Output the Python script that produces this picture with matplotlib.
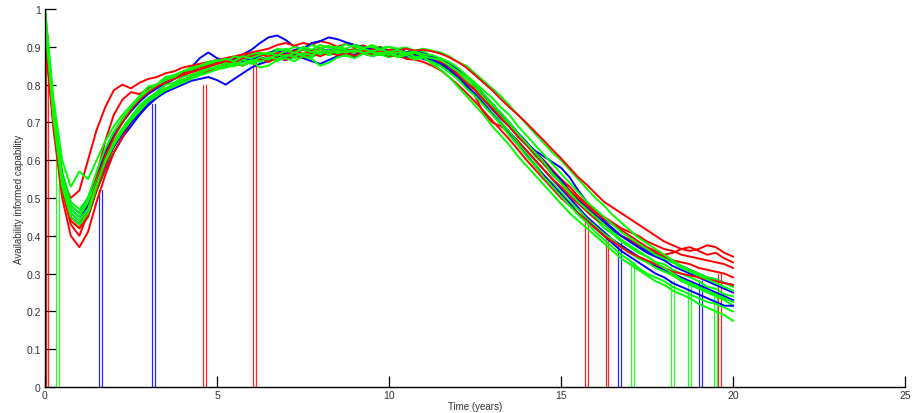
import numpy as np
import matplotlib
matplotlib.use("Agg")
import matplotlib.pyplot as plt

# time grid of the runs (years), one sample each quarter year
years = np.arange(0, 20.01, 0.25)

# availability of informed capability, one list per run
blue_runs = [
    [0.96, 0.72, 0.55, 0.47, 0.45, 0.48, 0.54, 0.6, 0.645, 0.675, 0.705, 0.735, 0.76, 0.78, 0.8, 0.815, 0.83, 0.845, 0.87, 0.885,
     0.87, 0.86, 0.87, 0.88, 0.892, 0.91, 0.925, 0.93, 0.918, 0.9, 0.895, 0.888, 0.895, 0.89, 0.898, 0.892, 0.888, 0.895, 0.89, 0.885,
     0.89, 0.882, 0.885, 0.878, 0.88, 0.872, 0.862, 0.845, 0.83, 0.808, 0.785, 0.76, 0.735, 0.71, 0.69, 0.665, 0.645, 0.625, 0.61, 0.595,
     0.58, 0.555, 0.52, 0.49, 0.465, 0.44, 0.42, 0.4, 0.385, 0.37, 0.355, 0.345, 0.335, 0.32, 0.31, 0.3, 0.29, 0.28, 0.27, 0.26, 0.25],
    [0.95, 0.7, 0.52, 0.45, 0.43, 0.46, 0.52, 0.575, 0.62, 0.66, 0.69, 0.72, 0.745, 0.765, 0.78, 0.79, 0.8, 0.81, 0.815, 0.82,
     0.812, 0.8, 0.815, 0.83, 0.845, 0.855, 0.862, 0.87, 0.865, 0.875, 0.87, 0.862, 0.855, 0.865, 0.875, 0.88, 0.874, 0.882, 0.876, 0.88,
     0.875, 0.878, 0.87, 0.874, 0.868, 0.86, 0.85, 0.835, 0.815, 0.795, 0.775, 0.75, 0.725, 0.7, 0.675, 0.65, 0.625, 0.6, 0.575, 0.55,
     0.525, 0.5, 0.475, 0.45, 0.43, 0.41, 0.39, 0.375, 0.36, 0.345, 0.33, 0.32, 0.31, 0.3, 0.29, 0.28, 0.27, 0.26, 0.25, 0.24, 0.23],
    [0.97, 0.73, 0.56, 0.48, 0.46, 0.5, 0.56, 0.62, 0.665, 0.7, 0.73, 0.755, 0.775, 0.79, 0.805, 0.815, 0.825, 0.835, 0.84, 0.848,
     0.855, 0.862, 0.868, 0.874, 0.88, 0.876, 0.884, 0.89, 0.882, 0.892, 0.895, 0.91, 0.915, 0.925, 0.92, 0.912, 0.905, 0.9, 0.892, 0.896,
     0.89, 0.895, 0.886, 0.89, 0.882, 0.876, 0.868, 0.855, 0.84, 0.82, 0.8, 0.775, 0.75, 0.725, 0.7, 0.672, 0.648, 0.62, 0.598, 0.57,
     0.548, 0.52, 0.495, 0.475, 0.455, 0.435, 0.415, 0.4, 0.385, 0.37, 0.36, 0.35, 0.34, 0.33, 0.32, 0.31, 0.3, 0.29, 0.285, 0.275, 0.27],
    [0.96, 0.71, 0.54, 0.46, 0.44, 0.47, 0.53, 0.59, 0.635, 0.67, 0.7, 0.725, 0.75, 0.77, 0.785, 0.8, 0.812, 0.82, 0.83, 0.836,
     0.844, 0.85, 0.856, 0.862, 0.868, 0.872, 0.866, 0.876, 0.87, 0.88, 0.874, 0.884, 0.878, 0.886, 0.88, 0.884, 0.878, 0.886, 0.88, 0.884,
     0.878, 0.882, 0.874, 0.878, 0.87, 0.866, 0.855, 0.84, 0.82, 0.798, 0.775, 0.75, 0.722, 0.695, 0.668, 0.64, 0.612, 0.585, 0.56, 0.535,
     0.51, 0.485, 0.46, 0.44, 0.42, 0.4, 0.38, 0.36, 0.345, 0.33, 0.315, 0.3, 0.29, 0.275, 0.265, 0.255, 0.245, 0.235, 0.225, 0.215, 0.215],
]

red_runs = [
    [0.93, 0.7, 0.55, 0.5, 0.52, 0.6, 0.68, 0.74, 0.785, 0.8, 0.79, 0.805, 0.815, 0.82, 0.83, 0.835, 0.845, 0.85, 0.855, 0.86,
     0.865, 0.87, 0.875, 0.88, 0.885, 0.89, 0.895, 0.905, 0.91, 0.903, 0.91, 0.905, 0.915, 0.91, 0.9, 0.908, 0.898, 0.904, 0.895, 0.9,
     0.888, 0.892, 0.885, 0.88, 0.882, 0.874, 0.862, 0.85, 0.83, 0.81, 0.79, 0.77, 0.745, 0.72, 0.695, 0.67, 0.645, 0.62, 0.6, 0.575,
     0.55, 0.53, 0.505, 0.485, 0.465, 0.45, 0.435, 0.42, 0.41, 0.4, 0.385, 0.375, 0.365, 0.36, 0.35, 0.345, 0.34, 0.335, 0.33, 0.325, 0.315],
    [0.94, 0.68, 0.5, 0.4, 0.37, 0.41, 0.49, 0.56, 0.62, 0.66, 0.7, 0.73, 0.755, 0.77, 0.785, 0.8, 0.81, 0.818, 0.83, 0.835,
     0.845, 0.85, 0.855, 0.86, 0.868, 0.872, 0.868, 0.876, 0.87, 0.882, 0.874, 0.884, 0.878, 0.888, 0.88, 0.886, 0.89, 0.882, 0.888, 0.88,
     0.885, 0.878, 0.882, 0.872, 0.875, 0.865, 0.855, 0.84, 0.82, 0.8, 0.77, 0.725, 0.7, 0.69, 0.672, 0.65, 0.625, 0.6, 0.575, 0.55,
     0.53, 0.505, 0.485, 0.465, 0.445, 0.43, 0.415, 0.4, 0.39, 0.375, 0.365, 0.355, 0.345, 0.335, 0.33, 0.325, 0.315, 0.31, 0.305, 0.3, 0.29],
    [0.92, 0.69, 0.52, 0.43, 0.4, 0.46, 0.56, 0.65, 0.72, 0.76, 0.78, 0.775, 0.79, 0.8, 0.815, 0.82, 0.83, 0.838, 0.845, 0.852,
     0.858, 0.865, 0.87, 0.875, 0.882, 0.876, 0.885, 0.88, 0.89, 0.884, 0.892, 0.886, 0.894, 0.888, 0.896, 0.89, 0.885, 0.892, 0.886, 0.89,
     0.882, 0.888, 0.878, 0.882, 0.872, 0.868, 0.858, 0.842, 0.825, 0.805, 0.785, 0.76, 0.738, 0.712, 0.688, 0.662, 0.64, 0.615, 0.59, 0.565,
     0.54, 0.52, 0.5, 0.48, 0.46, 0.445, 0.43, 0.415, 0.4, 0.385, 0.37, 0.36, 0.35, 0.355, 0.365, 0.37, 0.36, 0.35, 0.355, 0.34, 0.33],
    [0.93, 0.7, 0.53, 0.44, 0.42, 0.45, 0.52, 0.58, 0.64, 0.675, 0.705, 0.735, 0.76, 0.775, 0.79, 0.8, 0.812, 0.82, 0.828, 0.835,
     0.842, 0.85, 0.856, 0.85, 0.862, 0.868, 0.86, 0.872, 0.865, 0.878, 0.872, 0.882, 0.875, 0.885, 0.878, 0.883, 0.876, 0.884, 0.88, 0.886,
     0.876, 0.878, 0.868, 0.866, 0.86, 0.85, 0.838, 0.82, 0.8, 0.778, 0.755, 0.73, 0.705, 0.68, 0.655, 0.628, 0.6, 0.575, 0.55, 0.525,
     0.5, 0.48, 0.46, 0.44, 0.42, 0.4, 0.385, 0.37, 0.355, 0.345, 0.335, 0.325, 0.315, 0.305, 0.3, 0.295, 0.29, 0.285, 0.28, 0.275, 0.27],
    [0.95, 0.71, 0.54, 0.45, 0.43, 0.47, 0.54, 0.61, 0.66, 0.7, 0.735, 0.76, 0.78, 0.795, 0.805, 0.815, 0.825, 0.832, 0.84, 0.848,
     0.855, 0.862, 0.858, 0.87, 0.875, 0.88, 0.874, 0.884, 0.878, 0.89, 0.883, 0.888, 0.895, 0.886, 0.892, 0.888, 0.894, 0.885, 0.892, 0.886,
     0.892, 0.89, 0.895, 0.89, 0.892, 0.888, 0.882, 0.872, 0.86, 0.845, 0.825, 0.805, 0.785, 0.762, 0.74, 0.72, 0.698, 0.675, 0.652, 0.628,
     0.605, 0.58, 0.555, 0.535, 0.512, 0.49, 0.475, 0.46, 0.445, 0.43, 0.415, 0.4, 0.385, 0.375, 0.365, 0.36, 0.365, 0.375, 0.37, 0.355, 0.345],
]

green_runs = [
    [1.0, 0.74, 0.57, 0.49, 0.47, 0.5, 0.56, 0.62, 0.67, 0.7, 0.73, 0.755, 0.78, 0.79, 0.81, 0.815, 0.83, 0.835, 0.85, 0.85,
     0.86, 0.855, 0.87, 0.865, 0.875, 0.88, 0.882, 0.895, 0.89, 0.9, 0.892, 0.905, 0.897, 0.903, 0.895, 0.908, 0.9, 0.894, 0.905, 0.897,
     0.9, 0.888, 0.895, 0.884, 0.888, 0.875, 0.868, 0.85, 0.835, 0.81, 0.795, 0.765, 0.745, 0.715, 0.695, 0.66, 0.64, 0.61, 0.59, 0.56,
     0.54, 0.51, 0.49, 0.465, 0.445, 0.42, 0.405, 0.385, 0.37, 0.355, 0.345, 0.33, 0.325, 0.31, 0.3, 0.29, 0.28, 0.265, 0.26, 0.245, 0.24],
    [0.98, 0.7, 0.52, 0.44, 0.42, 0.45, 0.52, 0.58, 0.635, 0.675, 0.705, 0.735, 0.755, 0.775, 0.785, 0.8, 0.81, 0.82, 0.825, 0.835,
     0.84, 0.85, 0.848, 0.86, 0.855, 0.865, 0.87, 0.862, 0.875, 0.87, 0.88, 0.872, 0.885, 0.878, 0.884, 0.875, 0.88, 0.886, 0.876, 0.88,
     0.872, 0.882, 0.875, 0.87, 0.872, 0.862, 0.855, 0.838, 0.82, 0.8, 0.775, 0.752, 0.725, 0.7, 0.675, 0.645, 0.615, 0.59, 0.56, 0.54,
     0.515, 0.49, 0.47, 0.445, 0.425, 0.405, 0.39, 0.37, 0.355, 0.34, 0.33, 0.315, 0.305, 0.295, 0.28, 0.27, 0.26, 0.25, 0.24, 0.23, 0.215],
    [1.0, 0.76, 0.6, 0.53, 0.57, 0.55, 0.6, 0.65, 0.69, 0.72, 0.745, 0.77, 0.795, 0.8, 0.82, 0.825, 0.835, 0.845, 0.85, 0.86,
     0.865, 0.86, 0.875, 0.87, 0.88, 0.885, 0.878, 0.89, 0.895, 0.885, 0.9, 0.892, 0.905, 0.897, 0.9, 0.895, 0.905, 0.898, 0.9, 0.892,
     0.9, 0.895, 0.898, 0.89, 0.895, 0.89, 0.885, 0.875, 0.86, 0.85, 0.83, 0.81, 0.79, 0.77, 0.745, 0.72, 0.695, 0.67, 0.645, 0.62,
     0.6, 0.575, 0.55, 0.525, 0.5, 0.48, 0.455, 0.435, 0.415, 0.395, 0.38, 0.365, 0.35, 0.335, 0.32, 0.31, 0.3, 0.29, 0.285, 0.275, 0.265],
    [0.99, 0.72, 0.55, 0.47, 0.45, 0.49, 0.545, 0.605, 0.65, 0.685, 0.715, 0.745, 0.765, 0.78, 0.8, 0.805, 0.82, 0.826, 0.835, 0.842,
     0.848, 0.858, 0.852, 0.866, 0.86, 0.872, 0.866, 0.88, 0.874, 0.884, 0.876, 0.888, 0.88, 0.89, 0.883, 0.888, 0.895, 0.886, 0.89, 0.882,
     0.888, 0.876, 0.885, 0.874, 0.872, 0.855, 0.84, 0.82, 0.795, 0.77, 0.745, 0.72, 0.69, 0.665, 0.64, 0.61, 0.585, 0.56, 0.535, 0.51,
     0.485, 0.46, 0.44, 0.42, 0.4, 0.38, 0.36, 0.34, 0.325, 0.31, 0.295, 0.28, 0.27, 0.255, 0.245, 0.235, 0.22, 0.21, 0.2, 0.19, 0.175],
    [0.97, 0.71, 0.53, 0.45, 0.43, 0.46, 0.53, 0.6, 0.645, 0.68, 0.71, 0.735, 0.76, 0.775, 0.79, 0.8, 0.812, 0.82, 0.83, 0.84,
     0.845, 0.85, 0.858, 0.85, 0.862, 0.845, 0.85, 0.865, 0.87, 0.862, 0.875, 0.868, 0.85, 0.858, 0.872, 0.878, 0.87, 0.882, 0.876, 0.885,
     0.878, 0.885, 0.88, 0.884, 0.875, 0.87, 0.865, 0.852, 0.835, 0.82, 0.8, 0.775, 0.75, 0.725, 0.7, 0.67, 0.645, 0.62, 0.595, 0.565,
     0.54, 0.515, 0.49, 0.47, 0.45, 0.43, 0.41, 0.39, 0.375, 0.36, 0.345, 0.33, 0.315, 0.3, 0.285, 0.275, 0.265, 0.255, 0.245, 0.235, 0.225],
    [1.0, 0.73, 0.56, 0.48, 0.46, 0.5, 0.57, 0.63, 0.675, 0.71, 0.74, 0.765, 0.785, 0.8, 0.815, 0.82, 0.835, 0.84, 0.848, 0.855,
     0.862, 0.868, 0.862, 0.875, 0.87, 0.88, 0.885, 0.876, 0.89, 0.884, 0.894, 0.886, 0.895, 0.888, 0.896, 0.89, 0.886, 0.895, 0.888, 0.894,
     0.886, 0.892, 0.884, 0.888, 0.88, 0.878, 0.87, 0.86, 0.845, 0.825, 0.805, 0.785, 0.765, 0.74, 0.72, 0.69, 0.665, 0.64, 0.615, 0.59,
     0.565, 0.54, 0.515, 0.49, 0.47, 0.45, 0.43, 0.41, 0.395, 0.38, 0.365, 0.35, 0.34, 0.33, 0.315, 0.305, 0.295, 0.285, 0.275, 0.265, 0.255],
    [0.98, 0.71, 0.54, 0.46, 0.44, 0.47, 0.535, 0.595, 0.64, 0.675, 0.705, 0.73, 0.755, 0.77, 0.785, 0.795, 0.805, 0.815, 0.825, 0.832,
     0.84, 0.845, 0.852, 0.858, 0.865, 0.86, 0.872, 0.868, 0.878, 0.874, 0.884, 0.878, 0.888, 0.882, 0.89, 0.885, 0.892, 0.884, 0.886, 0.878,
     0.884, 0.872, 0.878, 0.866, 0.872, 0.858, 0.85, 0.832, 0.815, 0.79, 0.77, 0.745, 0.72, 0.695, 0.665, 0.64, 0.61, 0.585, 0.555, 0.53,
     0.505, 0.48, 0.455, 0.435, 0.41, 0.39, 0.37, 0.35, 0.335, 0.315, 0.3, 0.29, 0.28, 0.265, 0.255, 0.245, 0.235, 0.225, 0.22, 0.21, 0.2],
]

# short outages where a run falls to zero: start time and level before the fall
blue_drop_t = [1.57, 3.12, 16.65, 19.02]
blue_drop_top = [0.52, 0.75, 0.38, 0.28]
red_drop_t = [0.02, 4.6, 6.06, 15.7, 16.3, 19.56]
red_drop_top = [0.93, 0.8, 0.86, 0.44, 0.40, 0.30]
green_drop_t = [0.33, 17.03, 18.2, 18.7, 19.45]
green_drop_top = [0.62, 0.33, 0.28, 0.27, 0.24]
drop_len = 0.08

x_ticks = [0, 5, 10, 15, 20, 25]
y_ticks = [0, 0.1, 0.2, 0.3, 0.4, 0.5, 0.6, 0.7, 0.8, 0.9, 1]
y_tick_labels = ['0', '0.1', '0.2', '0.3', '0.4', '0.5', '0.6', '0.7', '0.8', '0.9', '1']

BLUE = (0, 0, 1)
RED = (1, 0, 0)
GREEN = (0, 1, 0)

plt.rcParams['font.family'] = ['Liberation Sans', 'DejaVu Sans']

fig = plt.figure(figsize=(9.2, 4.14), dpi=100)
ax = fig.add_axes([0.0489, 0.0628, 0.9348, 0.913])

# outages first so the bundle of runs sits over their tops
for ts, tops, col in [(blue_drop_t, blue_drop_top, BLUE),
                      (red_drop_t, red_drop_top, RED),
                      (green_drop_t, green_drop_top, GREEN)]:
    for t, top in zip(ts, tops):
        ax.plot([t, t, t + drop_len, t + drop_len], [top, 0, 0, top],
                color=col, lw=0.9, alpha=0.85)

n = max(len(blue_runs), len(red_runs), len(green_runs))
for i in range(n):
    if i < len(blue_runs):
        ax.plot(years, blue_runs[i], color=BLUE, lw=1.4)
    if i < len(red_runs):
        ax.plot(years, red_runs[i], color=RED, lw=1.4)
    if i < len(green_runs):
        ax.plot(years, green_runs[i], color=GREEN, lw=1.4)

ax.set_xlim(0, 25)
ax.set_ylim(0, 1)
ax.set_xticks(x_ticks)
ax.set_yticks(y_ticks)
ax.set_yticklabels(y_tick_labels)

for s in ['top', 'right']:
    ax.spines[s].set_visible(False)
for s in ['left', 'bottom']:
    ax.spines[s].set_linewidth(1.0)
    ax.spines[s].set_color('black')

ax.tick_params(axis='both', direction='in', length=8, width=0.9,
               labelsize=7.5, labelcolor='#333333', color='black')
ax.tick_params(axis='y', pad=3)
ax.tick_params(axis='x', pad=2)

ax.set_xlabel('Time (years)', fontsize=7, color='#333333', labelpad=1)
ax.set_ylabel('Availability informed capability', fontsize=7, color='#333333', labelpad=2)

fig.savefig('out.png', dpi=100)
